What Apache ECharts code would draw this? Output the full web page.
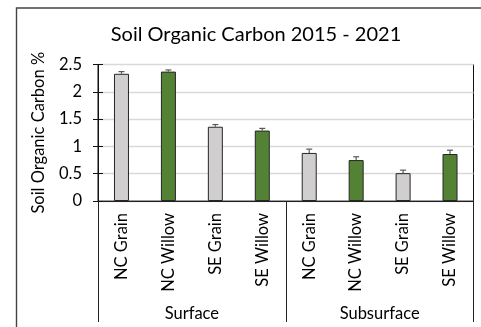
<!DOCTYPE html>
<html>
<head>
<meta charset="utf-8">
<style>
  html, body { margin: 0; padding: 0; background: #fff; }
  #chart { width: 481px; height: 327px; }
</style>
<script src="https://cdn.jsdelivr.net/npm/echarts@6/dist/echarts.min.js"></script>
</head>
<body>
<div id="chart"></div>
<script>
// Sample sites (inner axis level) and soil depth groups (outer level)
const sites = ['NC Grain', 'NC Willow', 'SE Grain', 'SE Willow', 'NC Grain', 'NC Willow', 'SE Grain', 'SE Willow'];
const depths = ['Surface', 'Subsurface'];
// Mean soil organic carbon (%) and standard error (plus direction)
const carbon = [2.33, 2.37, 1.36, 1.29, 0.88, 0.75, 0.51, 0.86];
const stdErr = [0.04, 0.03, 0.04, 0.04, 0.07, 0.06, 0.055, 0.07];
const yTicks = { min: 0, max: 2.5, step: 0.5 };

const GRAY = '#d0cece';
const GREEN = '#548235';
const FONT = 'Lato';

const chart = echarts.init(document.getElementById('chart'), null, { renderer: 'canvas' });

const barData = carbon.map((v, i) => ({
  value: v,
  itemStyle: { color: i % 2 === 0 ? GRAY : GREEN }
}));

const errData = carbon.map((v, i) => [i, v, v + stdErr[i]]);

const yBase = {
  type: 'value',
  min: yTicks.min,
  max: yTicks.max,
  interval: yTicks.step,
  position: 'left'
};

chart.setOption({
  animation: false,
  textStyle: { fontFamily: FONT },
  title: {
    text: 'Soil Organic Carbon 2015 - 2021',
    left: 251,
    top: 20,
    textAlign: 'center',
    textStyle: { fontFamily: FONT, fontSize: 20, fontWeight: 'normal', color: '#000' }
  },
  graphic: [{
    type: 'rect',
    shape: { x: 16.5, y: 8, width: 500, height: 340 },
    style: { fill: 'none', stroke: '#444', lineWidth: 1.4 },
    silent: true,
    z: -1
  }],
  grid: {
    left: 98, right: 7.5, top: 64.5, bottom: 126,
    show: true, borderColor: '#111', borderWidth: 1, backgroundColor: 'transparent'
  },
  xAxis: [{
    type: 'category',
    data: sites,
    position: 'bottom',
    axisLine: { lineStyle: { color: '#222', width: 1 } },
    axisTick: { show: false },
    axisLabel: { rotate: 90, margin: 12, fontSize: 16.5, color: '#000', fontFamily: FONT, interval: 0 }
  }, {
    type: 'category',
    data: depths,
    position: 'bottom',
    axisLine: { show: true, lineStyle: { color: '#222', width: 1 } },
    axisTick: { show: true, length: 121, lineStyle: { color: '#222', width: 1 } },
    axisLabel: { margin: 104, fontSize: 16.5, color: '#000', fontFamily: FONT }
  }],
  yAxis: [Object.assign({}, yBase, {
    name: 'Soil Organic Carbon %',
    nameLocation: 'middle',
    nameGap: 51,
    nameTextStyle: { fontSize: 16.5, color: '#000', fontFamily: FONT },
    axisLine: { show: true, lineStyle: { color: '#111', width: 1 } },
    axisTick: { show: true, length: 5, lineStyle: { color: '#111' } },
    axisLabel: { margin: 16, fontSize: 16.5, color: '#000', fontFamily: FONT },
    splitLine: { show: true, lineStyle: { color: '#d9d9d9', width: 1.3 } }
  }), Object.assign({}, yBase, {
    axisLine: { show: false },
    axisTick: { show: true, inside: true, length: 5, lineStyle: { color: '#111' } },
    axisLabel: { show: false },
    splitLine: { show: false }
  })],
  series: [{
    type: 'bar',
    data: barData,
    barWidth: 15,
    itemStyle: { borderColor: '#262626', borderWidth: 1 },
    z: 2
  }, {
    type: 'custom',
    data: errData,
    z: 3,
    renderItem: function (params, api) {
      const x = api.value(0);
      const lo = api.coord([x, api.value(1)]);
      const hi = api.coord([x, api.value(2)]);
      const cap = 3;
      const st = { stroke: '#595959', lineWidth: 1.2 };
      return {
        type: 'group',
        children: [
          { type: 'line', shape: { x1: lo[0], y1: lo[1], x2: hi[0], y2: hi[1] }, style: st },
          { type: 'line', shape: { x1: hi[0] - cap, y1: hi[1], x2: hi[0] + cap, y2: hi[1] }, style: st }
        ]
      };
    }
  }]
});
</script>
</body>
</html>
